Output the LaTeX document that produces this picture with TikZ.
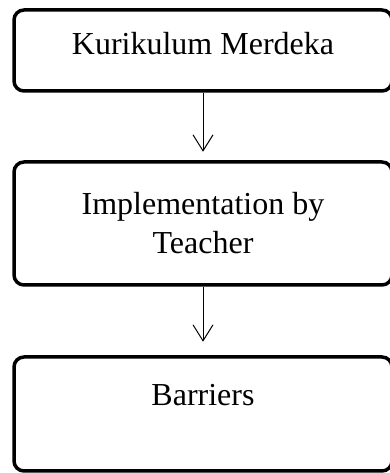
\documentclass[tikz,border=0pt]{standalone}
\usepackage{fontspec}
\setmainfont{Liberation Serif}
\usepackage{tikz}
\usetikzlibrary{arrows.meta,positioning}

\begin{document}
\begin{tikzpicture}[
    flowbox/.style={draw, line width=3.5pt, rounded corners=10pt, minimum width=378pt, align=center, font=\fontsize{32}{39}\selectfont},
    flowarrow/.style={-{Straight Barb[length=16pt,width=20pt]}, line width=1pt}
  ]
        \useasboundingbox (0,0) rectangle (390pt,473pt);

        % Boxes
        \node [flowbox, minimum height=81pt, text height=22pt, text depth=13pt] (kurikulum) at (203pt,422.5pt) {Kurikulum Merdeka};
        \node [flowbox, minimum height=123pt, below=67.5pt of kurikulum] (implementation) {Implementation by\\Teacher};
        \node [flowbox, minimum height=114pt, text height=22pt, text depth=38pt, below=68.5pt of implementation] (barriers) {Barriers};

        % Arrows
        \draw [flowarrow, shorten >=8.5pt] (kurikulum) -- (implementation);
        \draw [flowarrow, shorten >=13.5pt] (implementation) -- (barriers);
    \end{tikzpicture}
\end{document}
